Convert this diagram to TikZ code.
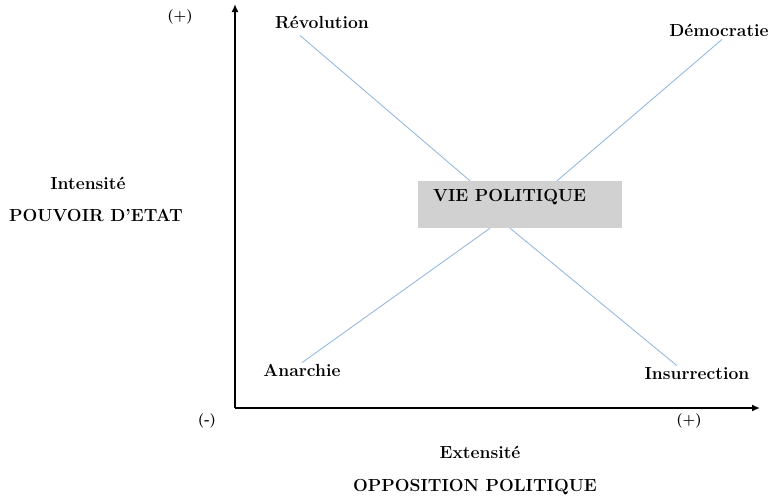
\documentclass[tikz,border=0pt]{standalone}
\usepackage{tikz}
\usetikzlibrary{arrows.meta}

\definecolor{branchblue}{RGB}{150,186,222}

\tikzset{
  lbl/.style={font=\fontsize{17.5}{20}\selectfont\bfseries, inner sep=0pt},
  sign/.style={font=\fontsize{14.5}{16}\selectfont\bfseries, inner sep=0pt},
  branch/.style={draw=branchblue, line width=0.9pt},
  axis/.style={line width=1.6pt, -{Latex[length=8pt, width=7pt]}}
}

\begin{document}
\begin{tikzpicture}[x=1pt, y=-1pt]
  \useasboundingbox (0,0) rectangle (779,501);

  % axes
  \coordinate (origin) at (235,408);
  \coordinate (ytop) at (235,4);
  \coordinate (xend) at (760,408);
  \draw[axis] (origin) -- (ytop);
  \draw[axis] (origin) -- (xend);

  % central box
  \node[fill=black!18, minimum width=204pt, minimum height=47pt, inner sep=0pt] (vie) at (520,204.5) {};
  \node[lbl, anchor=west] (vietxt) at (433,197) {VIE POLITIQUE};

  % corners
  \node[lbl] (rev) at (322,22) {Révolution};
  \node[lbl] (dem) at (719,30) {Démocratie};
  \node[lbl] (anar) at (302,370) {Anarchie};
  \node[lbl] (insur) at (697,374) {Insurrection};

  \draw[branch] ([xshift=-22pt,yshift=-7pt]rev.south) -- ([xshift=-50pt]vie.north);
  \draw[branch] ([xshift=3pt,yshift=-3pt]dem.south) -- ([xshift=37pt]vie.north);
  \draw[branch] ([yshift=1pt]anar.north) -- ([xshift=-30pt]vie.south);
  \draw[branch] ([xshift=-20pt,yshift=2pt]insur.north) -- ([xshift=-10pt]vie.south);

  % axis labels
  \node[sign] (yplus) at (180,17) {(+)};
  \node[lbl] (intens) at (88,183) {Intensité};
  \node[lbl] (pouv) at (96,215) {POUVOIR D'ETAT};
  \node[sign] (xminus) at (207,421) {(-)};
  \node[sign] (xplus) at (689,421) {(+)};
  \node[lbl] (extens) at (480,452) {Extensité};
  \node[lbl] (oppo) at (475,487) {OPPOSITION POLITIQUE};
\end{tikzpicture}
\end{document}
